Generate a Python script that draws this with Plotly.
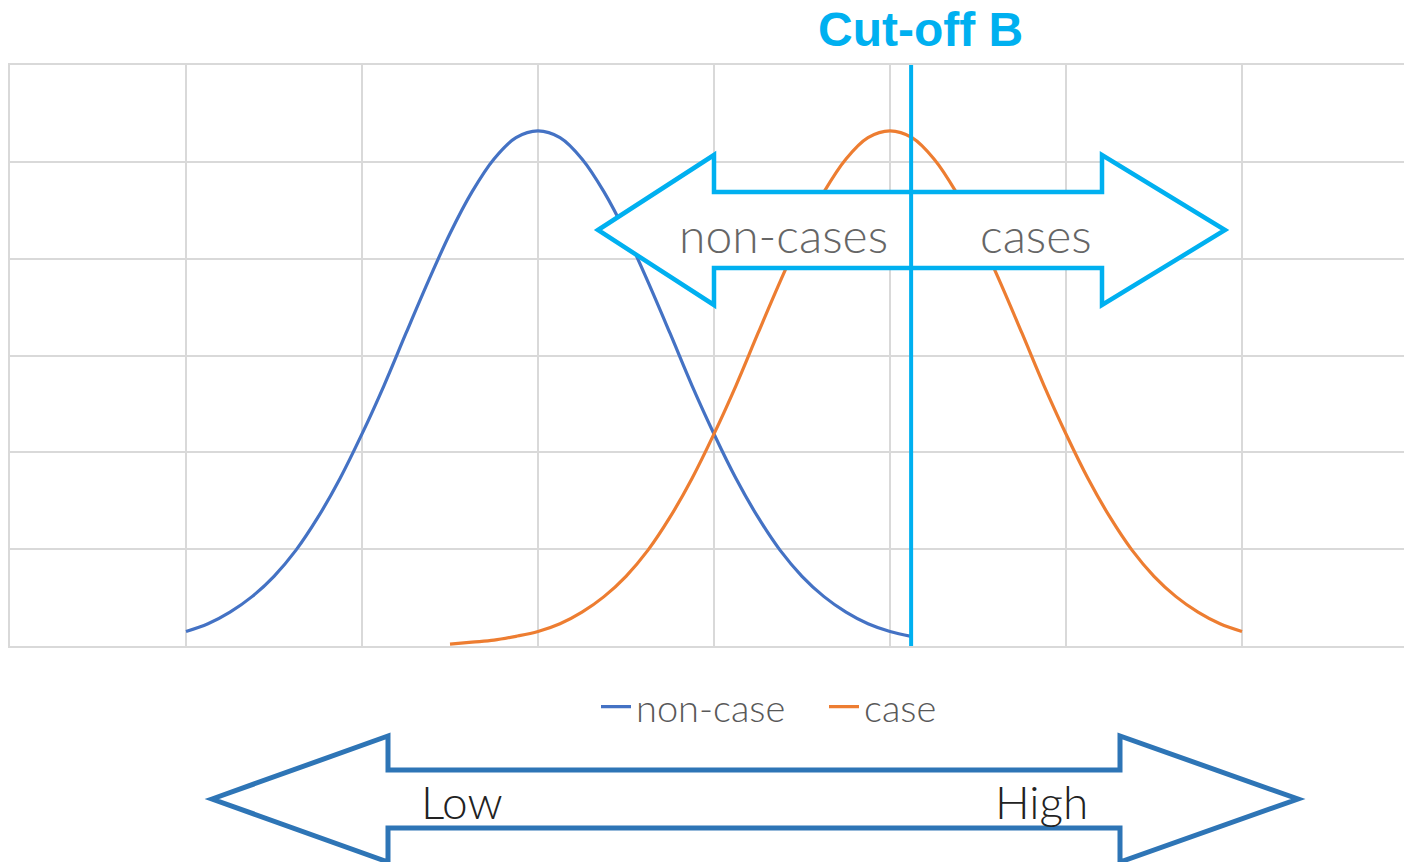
import plotly.graph_objects as go

# score axis in grid units, density values
x_noncase = [1.0, 1.125, 1.25, 1.375, 1.5, 1.625, 1.75, 1.875, 2.0, 2.125, 2.25, 2.375,
             2.5, 2.625, 2.75, 2.875, 3.0, 3.125, 3.25, 3.375, 3.5, 3.625, 3.75, 3.875,
             4.0, 4.125, 4.25, 4.375, 4.5, 4.625, 4.75, 4.875, 5.0, 5.12]
y_noncase = [0.015, 0.023, 0.035, 0.051, 0.072, 0.099, 0.133, 0.173, 0.219, 0.269, 0.323, 0.376,
             0.426, 0.469, 0.503, 0.525, 0.532, 0.525, 0.503, 0.469, 0.426, 0.376, 0.323, 0.269,
             0.219, 0.173, 0.133, 0.099, 0.072, 0.051, 0.035, 0.023, 0.015, 0.010]

x_case = [2.5, 2.625, 2.75, 2.875, 3.0, 3.125, 3.25, 3.375, 3.5, 3.625, 3.75, 3.875,
          4.0, 4.125, 4.25, 4.375, 4.5, 4.625, 4.75, 4.875, 5.0, 5.125, 5.25, 5.375,
          5.5, 5.625, 5.75, 5.875, 6.0, 6.125, 6.25, 6.375, 6.5, 6.625, 6.75, 6.875, 7.0]
y_case = [0.002, 0.004, 0.006, 0.010, 0.015, 0.023, 0.035, 0.051, 0.072, 0.099, 0.133, 0.173,
          0.219, 0.269, 0.323, 0.376, 0.426, 0.469, 0.503, 0.525, 0.532, 0.525, 0.503, 0.469,
          0.426, 0.376, 0.323, 0.269, 0.219, 0.173, 0.133, 0.099, 0.072, 0.051, 0.035, 0.023, 0.015]

series_names = ["non-case", "case"]
cutoff = 5.12
cutoff_label = "Cut-off B"
side_labels = ["non-cases", "cases"]
scale_labels = ["Low", "High"]

W, H = 1404, 862
ML, MR, MT, MB = 10, 0, 65, 216
PW, PH = W - ML - MR, H - MT - MB

BLUE = "#4472c4"
ORANGE = "#ed7d31"
CYAN = "#00b0f0"
DARKBLUE = "#2e75b6"
GRID = "#d9d9d9"
LIGHT = "Lato, Roboto, 'Open Sans', sans-serif"


def px(x):
    return (x - ML) / PW


def py(y):
    return (H - MB - y) / PH


def arrow_path(tip_l, head_l, head_r, tip_r, y_mid, head_half, shaft_half):
    pts = [
        (tip_l, y_mid),
        (head_l, y_mid - head_half),
        (head_l, y_mid - shaft_half),
        (head_r, y_mid - shaft_half),
        (head_r, y_mid - head_half),
        (tip_r, y_mid),
        (head_r, y_mid + head_half),
        (head_r, y_mid + shaft_half),
        (head_l, y_mid + shaft_half),
        (head_l, y_mid + head_half),
    ]
    return "M " + " L ".join(f"{px(a):.5f},{py(b):.5f}" for a, b in pts) + " Z"


def label(text, x, y, size, color, family=LIGHT, weight=300):
    return dict(text=text, xref="paper", yref="paper", x=px(x), y=py(y),
                xanchor="center", yanchor="middle", showarrow=False,
                font=dict(family=family, size=size, color=color, weight=weight))


fig = go.Figure()
fig.add_trace(go.Scatter(x=x_noncase, y=y_noncase, name=series_names[0], mode="lines",
                         line=dict(color=BLUE, width=3.2, shape="spline")))
fig.add_trace(go.Scatter(x=x_case, y=y_case, name=series_names[1], mode="lines",
                         line=dict(color=ORANGE, width=3.2, shape="spline")))

shapes = [
    # double arrow around the cut-off
    dict(type="path", xref="paper", yref="paper",
         path=arrow_path(598, 714, 1102, 1225, 230, 75, 38),
         line=dict(color=CYAN, width=4.5), fillcolor="white", layer="above"),
    # cut-off line
    dict(type="line", xref="x", yref="paper", x0=cutoff, x1=cutoff, y0=0, y1=1,
         line=dict(color=CYAN, width=4), layer="above"),
    # low/high arrow under the chart
    dict(type="path", xref="paper", yref="paper",
         path=arrow_path(212, 388, 1120, 1298, 799, 63, 29),
         line=dict(color=DARKBLUE, width=5), fillcolor="white", layer="above"),
]

annotations = [
    label(f"<b>{cutoff_label}</b>", 920, 30, 48, CYAN, family="Liberation Sans, Arial", weight=None),
    label(side_labels[0], 783, 234, 48, "#666666"),
    label(side_labels[1], 1036, 234, 48, "#666666"),
    label(scale_labels[0], 462, 801, 46, "#222222"),
    label(scale_labels[1], 1041, 801, 46, "#222222"),
]

fig.update_layout(
    width=W, height=H,
    margin=dict(l=ML, r=MR, t=MT, b=MB),
    paper_bgcolor="white", plot_bgcolor="white",
    showlegend=True,
    legend=dict(orientation="h", x=px(596), y=py(707), xanchor="left", yanchor="middle",
                entrywidth=183, entrywidthmode="pixels",
                font=dict(family=LIGHT, size=38, color="#595959", weight=300),
                bgcolor="rgba(0,0,0,0)"),
    shapes=shapes,
    annotations=annotations,
)
fig.update_xaxes(range=[0, PW / 176], dtick=1, tick0=0, showgrid=True, gridcolor=GRID,
                 gridwidth=1.5, zeroline=False, showticklabels=False, ticks="",
                 showline=True, mirror=True, linecolor=GRID, linewidth=1.5)
fig.update_yaxes(range=[0, 0.6], dtick=0.1, tick0=0, showgrid=True, gridcolor=GRID,
                 gridwidth=1.5, zeroline=False, showticklabels=False, ticks="",
                 showline=True, linecolor=GRID, linewidth=1.5)

# drop the default body margin so the figure fills the window
fig.write_html("out.html", config={"displayModeBar": False},
               post_script="document.body.style.margin='0';")
